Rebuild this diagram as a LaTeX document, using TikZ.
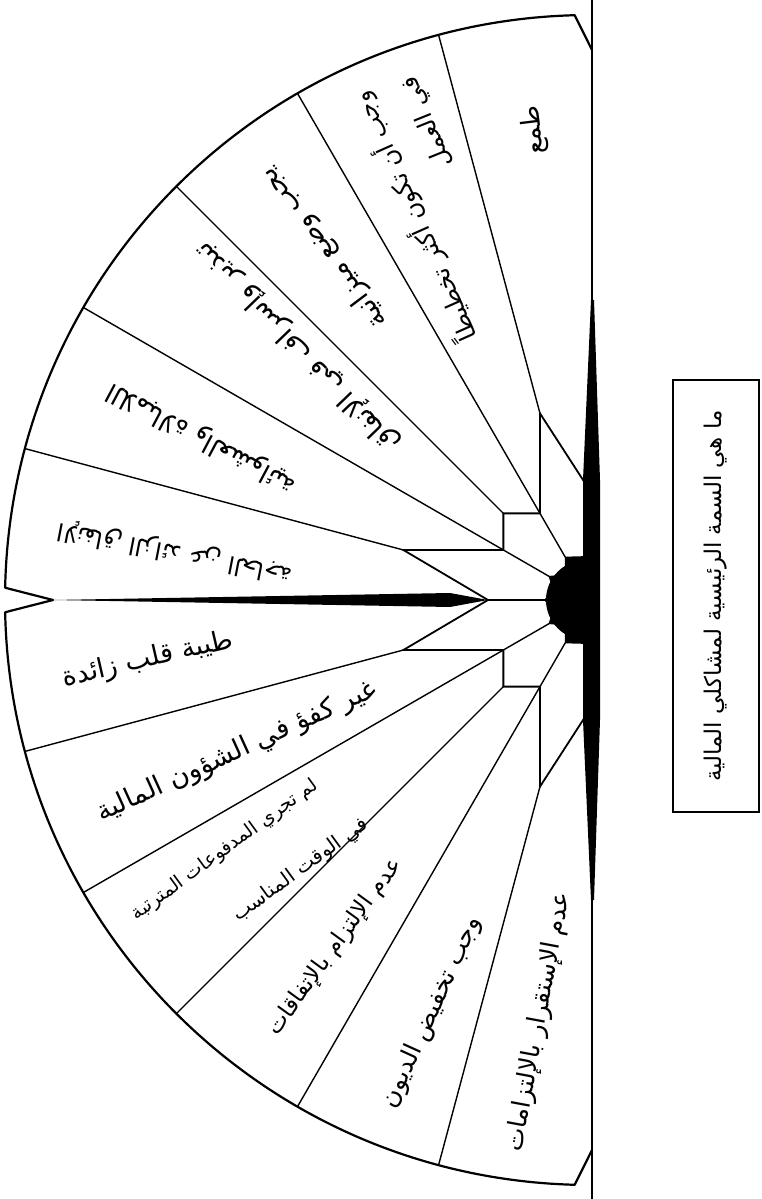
\documentclass[tikz,border=0pt]{standalone}
\usepackage{fontspec}
\newfontfamily\arabicfont[Script=Arabic]{DejaVu Sans}
\TeXXeTstate=1

\begin{document}
\begin{tikzpicture}[
  x=0.5pt, y=0.5pt,
  rim/.style={line width=1.1pt, line join=round},
  ray/.style={line width=0.7pt},
  lbl/.style={font=\arabicfont\fontsize{#1}{#1}\selectfont, inner sep=0pt},
  lbl/.default=12,
  qbox/.style={draw, line width=0.9pt, rotate=90,
    minimum width=216pt, minimum height=43pt,
    font=\arabicfont\fontsize{11.5}{13}\selectfont}
]
\useasboundingbox (-590,-599) rectangle (171,600);

%% fan points
\coordinate (hub)   at (0,0);
\coordinate (notch) at (-537,0);
\coordinate (tip)   at (-102,0);
\coordinate (o1)  at (105:585);  \coordinate (i1)  at (-50,186.6);
\coordinate (o2)  at (120:585);  \coordinate (i2)  at (-50,86.6);
\coordinate (o3)  at (135:585);  \coordinate (i3)  at (-86.6,86.6);
\coordinate (o4)  at (150:585);  \coordinate (i4)  at (-86.6,50);
\coordinate (o5)  at (165:585);  \coordinate (i5)  at (-186.6,50);
\coordinate (o7)  at (195:585);  \coordinate (i7)  at (-186.6,-50);
\coordinate (o8)  at (210:585);  \coordinate (i8)  at (-86.6,-50);
\coordinate (o9)  at (225:585);  \coordinate (i9)  at (-86.6,-86.6);
\coordinate (o10) at (240:585);  \coordinate (i10) at (-50,-86.6);
\coordinate (o11) at (255:585);  \coordinate (i11) at (-50,-186.6);
\coordinate (s1)  at (-5,117);
\coordinate (s11) at (-5,-117);

%% black parts
\fill (notch) -- (-140,7) -- (tip) -- (-140,-7) -- cycle;
\fill (1,300) -- (-7,120) -- (-7,-120) -- (1,-300) -- (4,-300)
  -- (10,-120) -- (10,120) -- (4,300) -- cycle;
\fill (8,40) -- (-4,40) arc[start angle=90, end angle=270, radius=40]
  -- (8,-40) -- cycle;
\fill (90:44) -- (120:50) -- (135:36) -- (150:48) -- (165:38)
  -- (180:46) -- (195:38) -- (210:48) -- (225:36) -- (240:50)
  -- (270:44) -- (8,-44) -- (8,44) -- cycle;

%% base line and rim
\draw[line width=1.1pt] (2,600) -- (2,-599);
\draw[rim] (2,550) -- (91.5:585) arc[start angle=91.5, end angle=178.8, radius=585]
  -- (notch) -- (181.2:585) arc[start angle=181.2, end angle=268.5, radius=585]
  -- (2,-550);

%% rays
\draw[ray] (o1) -- (i1);
\draw[ray] (o2) -- (i2);
\draw[ray] (o3) -- (i3);
\draw[ray] (o4) -- (i4);
\draw[ray] (o5) -- (i5);
\draw[ray] (o7) -- (i7);
\draw[ray] (o8) -- (i8);
\draw[ray] (o9) -- (i9);
\draw[ray] (o10) -- (i10);
\draw[ray] (o11) -- (i11);

%% inner steps
\draw[ray, line width=0.9pt] (s1) -- (i1) -- (i2) -- (i3) -- (i4) -- (i5) -- (tip)
  -- (i7) -- (i8) -- (i9) -- (i10) -- (i11) -- (s11);
\draw[ray] (i2) -- (hub);
\draw[ray] (i4) -- (hub);
\draw[ray] (tip) -- (hub);
\draw[ray] (i8) -- (hub);
\draw[ray] (i10) -- (hub);

%% labels, upper half
\node[lbl=13, rotate=97]    (l1)  at (-56,470)  {\beginR طمع\endR};
\node[lbl=12, rotate=114]   (l2)  at (-176,383) {\beginR وجب أن تكون أكثر تخطيطاً\endR};
\node[lbl=12, rotate=112]   (l2b) at (-162,478) {\beginR في العمل\endR};
\node[lbl=13.5, rotate=127] (l3)  at (-266,352) {\beginR يجب وضع ميزانية\endR};
\node[lbl=13.5, rotate=134] (l4)  at (-292,253) {\beginR تبذير وإسراف في الإنفاق\endR};
\node[lbl=13, rotate=152]   (l5)  at (-388,162) {\beginR اللامبالاة والعشوائية\endR};
\node[lbl=12, rotate=169]   (l6)  at (-415,48)  {\beginR الإنفاق الزائد عن الحاجة\endR};

%% labels, lower half
\node[lbl=13.5, rotate=13]  (l7)  at (-442,-60)  {\beginR طيبة قلب زائدة\endR};
\node[lbl=13.5, rotate=24.5] (l8) at (-353,-152) {\beginR غير كفؤ في الشؤون المالية\endR};
\node[lbl=9.5, rotate=36]   (l9)  at (-365,-250) {\beginR لم تجري المدفوعات المترتبة\endR};
\node[lbl=10, rotate=36]    (l9b) at (-289,-270) {\beginR في الوقت المناسب\endR};
\node[lbl=11.5, rotate=54]  (l10) at (-255,-347) {\beginR عدم الإلتزام بالإتفاقات\endR};
\node[lbl=12.5, rotate=65.5] (l11) at (-158,-412) {\beginR وجب تخفيض الديون\endR};
\node[lbl=12.5, rotate=79.5] (l12) at (-51,-422)  {\beginR عدم الإستقرار بالإلتزامات\endR};

%% question box
\node[qbox] (q) at (126,4) {\beginR ما هي السمة الرئيسية لمشاكلي المالية\endR};

\end{tikzpicture}
\end{document}
